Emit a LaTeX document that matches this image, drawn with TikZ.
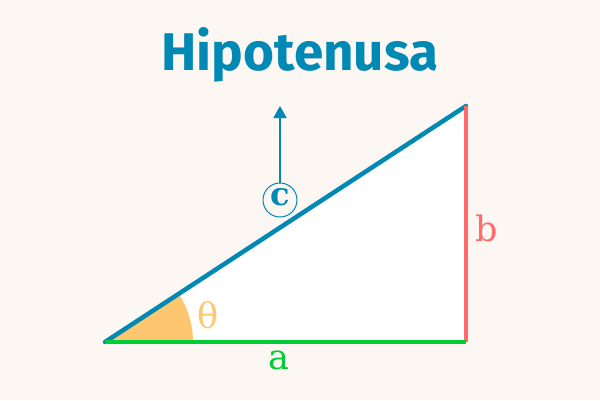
\documentclass[tikz,border=0pt]{standalone}
\usepackage{fontspec}
\setmainfont{DejaVu Serif}
\newfontfamily\titlefont{Fira Sans}[UprightFont=* Bold]
\usetikzlibrary{arrows.meta}
\definecolor{bgc}{HTML}{FCF7F3}
\definecolor{hypc}{HTML}{0089B4}
\definecolor{redc}{HTML}{FF6B6B}
\definecolor{greenc}{HTML}{00CC33}
\definecolor{angc}{HTML}{FFC670}
\tikzset{
  side/.style={line width=4.5pt},
  lbl/.style={font=\fontsize{35}{35}\selectfont, inner sep=0pt}
}
\begin{document}
\begin{tikzpicture}[x=1pt,y=-1pt]
\fill[bgc] (0,0) rectangle (600,400);
\useasboundingbox (0,0) rectangle (600,400);
\coordinate (A) at (105,342);
\coordinate (B) at (466,342);
\coordinate (C) at (466,106);
\fill[white] (A) -- (B) -- (C) -- cycle;
\fill[angc] (A) -- ++(88,0) arc[start angle=0, end angle=-33.17, radius=88] -- cycle;
\draw[side, hypc, line cap=round] (A) -- (C);
\draw[side, redc] (B) -- (C);
\draw[side, greenc] (A) -- (B);
\node[font=\titlefont\fontsize{53}{53}\selectfont, text=hypc] (title) at (300,55) {Hipotenusa};
\node[circle, draw=hypc, line width=1pt, minimum size=34pt, inner sep=0pt, text=hypc, font=\bfseries\fontsize{32}{32}\selectfont] (c) at (280,200) {\raisebox{0.4ex}{c}};
\coordinate (arrtop) at (280,106);
\draw[hypc, line width=2pt, -{Triangle[length=12pt,width=13pt]}] (c.north) -- (arrtop);
\node[lbl, text=angc] (theta) at (208,315) {θ};
\node[lbl, text=greenc] (a) at (279,360) {a};
\node[lbl, text=redc] (b) at (487,228) {b};
\end{tikzpicture}
\end{document}
